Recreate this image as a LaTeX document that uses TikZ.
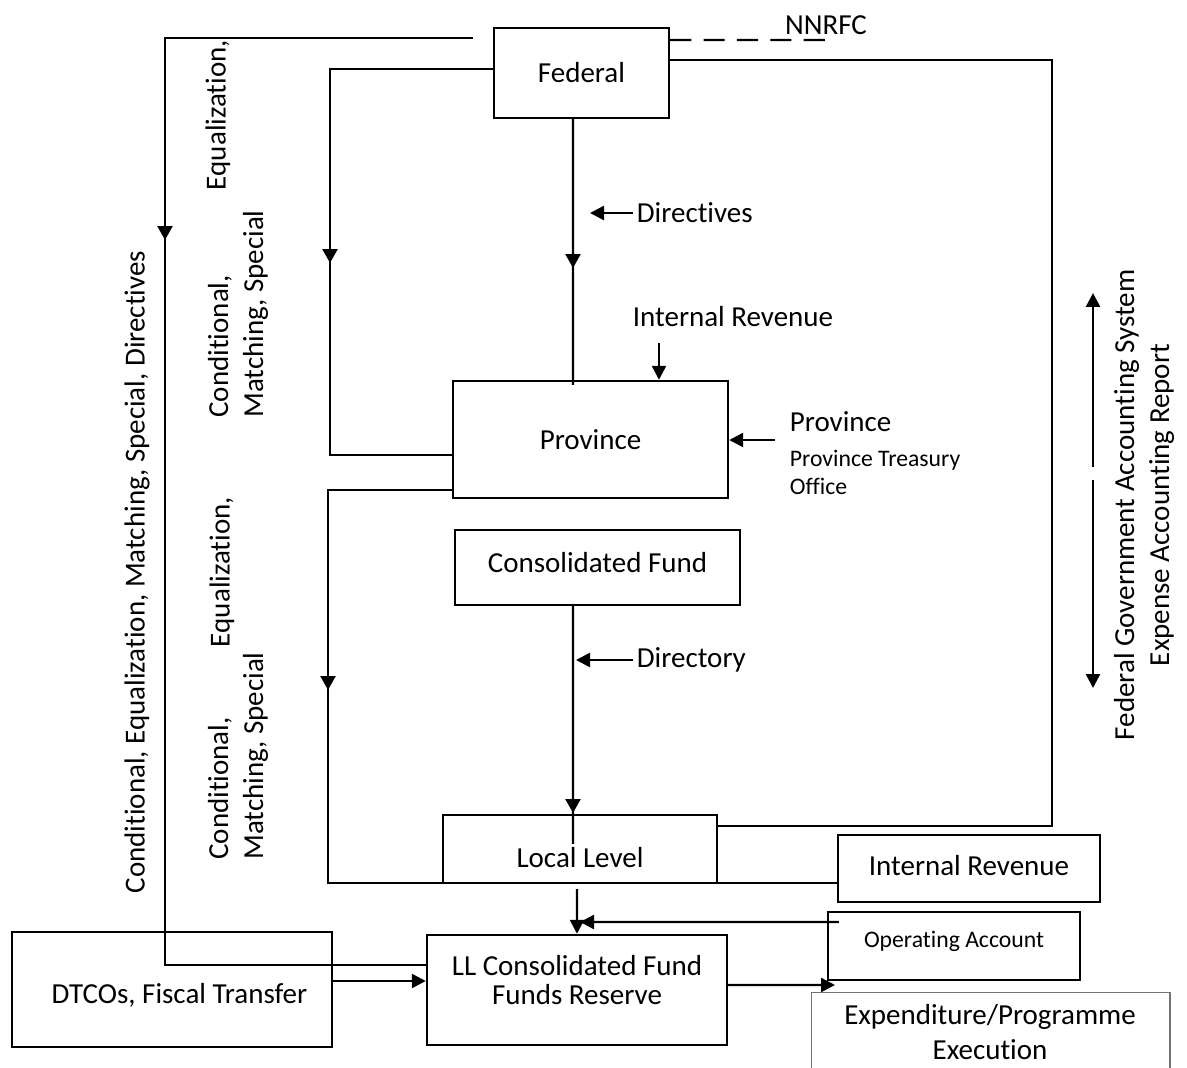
\documentclass[tikz,border=0pt]{standalone}
\usepackage{fontspec}
\setmainfont{Carlito}[Ligatures=NoCommon]
\usetikzlibrary{arrows.meta,positioning}
\newcommand{\smallfont}{\fontsize{13.5}{16}\selectfont}
\newcommand{\nudge}[2]{\raisebox{#1}[\height][\depth]{#2}}
\begin{document}
\begin{tikzpicture}[
  x=0.02cm, y=-0.02cm,
  font=\fontsize{16.5}{20}\selectfont,
  box/.style={
    draw,
    line width=1.4pt,
    inner sep=2pt,
    align=center
  },
  thin_box/.style={
    draw=black!55,
    line width=0.6pt
  },
  label_text/.style={
    inner sep=2pt
  },
  side_text/.style={
    rotate=90,
    align=left,
    inner sep=0pt
  },
  wire/.style={
    draw,
    line width=1.4pt
  },
  wire_dashed/.style={
    wire,
    dash pattern=on 12pt off 7pt
  },
  pointer/.style={
    wire,
    -{Triangle[length=0.28cm,width=0.28cm]}
  },
  tip/.style={
    line width=1.4pt,
    -{Triangle[length=0.28cm,width=0.3cm]}
  }
]%
\useasboundingbox (0,0) rectangle (1187,1068);
\node [box, minimum width=3.5cm, minimum height=1.8cm] (federal) at (581.5,73) {Federal};
\node [box, minimum width=5.5cm, minimum height=2.34cm] (province) at (590.5,439.5) {Province};
\node [box, minimum width=5.7cm, minimum height=1.5cm] (con_fund) at (597.5,567.5) {\nudge{0.1cm}{Consolidated Fund}};
\node [box, minimum width=5.48cm, minimum height=1.36cm] (local) at (580,849) {\nudge{-0.18cm}{Local Level}};
\node [box, minimum width=5.24cm, minimum height=1.34cm] (int_rev) at (969,868.5) {\nudge{0.06cm}{Internal Revenue}};
\node [box, minimum width=5.04cm, minimum height=1.36cm, font=\smallfont] (op_acc) at (954,946) {\nudge{0.1cm}{Operating Account}};
\node [box, minimum width=6cm, minimum height=2.2cm] (ll_fund) at (577,990) {\nudge{0.2cm}{LL Consolidated Fund}\\[-3pt]\nudge{0.2cm}{Funds Reserve}};
\node [box, minimum width=6.4cm, minimum height=2.3cm] (dtcos) at (172,989.5) {\nudge{-0.12cm}{\hspace{0.3cm}DTCOs, Fiscal Transfer}};
\node [thin_box, minimum width=7.18cm, minimum height=1.96cm, anchor=north] (exp_box) at (990.5,992) {};
\node [align=center] (exp_text) at (990,1032) {Expenditure/Programme\\Execution};

\node [label_text] (nnrfc) at (826,25) {NNRFC};
\node [label_text, anchor=west] (dir_lbl) at (633,213) {Directives};
\node [label_text] (ir_lbl) at (733,317) {Internal Revenue};
\node [label_text, anchor=west, align=left] (pto_lbl) at (786,453) {Province\\{\smallfont Province Treasury}\\[-4pt]{\smallfont Office}};
\node [label_text, anchor=west] (dirc_lbl) at (633,660) {Directory};

\node [side_text] (grants_all) at (137,572) {Conditional, Equalization, Matching, Special, Directives};
\node [side_text] (eq_top) at (218,115) {Equalization,};
\node [side_text, anchor=west] (cms_top) at (238,418) {Conditional,\\Matching, Special};
\node [side_text] (eq_mid) at (222,572) {Equalization,};
\node [side_text, anchor=west] (cms_mid) at (238,860) {Conditional,\\Matching, Special};
\node [side_text, align=center] (fgas) at (1144,505) {Federal Government Accounting System\\Expense Accounting Report};

\coordinate (fed_feed) at (473,38);
\coordinate (trunk_bend) at (165,965);
\draw [wire] (fed_feed) -| (trunk_bend) -- (trunk_bend -| ll_fund.west);
\draw [tip] (165,224) -- (165,240);

\coordinate (loop_a) at (330,455);
\draw [wire] ([yshift=0.08cm]federal.west) -| (loop_a) -- (loop_a -| province.west);
\draw [tip] (330,247) -- (330,263);

\coordinate (loop_b) at (328,883);
\draw [wire] ([yshift=-1.01cm]province.west) -| (loop_b) -- (loop_b -| int_rev.west);
\draw [tip] (328,674) -- (328,690);

\coordinate (loop_c) at (1052,826);
\draw [wire] ([yshift=0.26cm]federal.east) -| (loop_c) -- (loop_c -| local.east);

\coordinate (nnrfc_end) at (835,40);
\draw [wire_dashed] ([yshift=0.66cm]federal.east) -- (nnrfc_end);

\draw [wire] ([xshift=-0.17cm]federal.south) -- ([xshift=-0.35cm,yshift=-0.1cm]province.north);
\draw [tip] (573,252) -- (573,268);

\coordinate (dir_tip) at (590,213);
\draw [pointer] (dir_lbl.west) -- (dir_tip);

\coordinate (ir_from) at (659,343);
\draw [pointer] (ir_from) -- (ir_from |- province.north);

\coordinate (pto_from) at (775,440);
\draw [pointer] (pto_from) -- (pto_from -| province.east);

\draw [wire] ([xshift=-0.49cm]con_fund.south) -- ([xshift=-0.14cm,yshift=-0.6cm]local.north);
\draw [tip] (573,797) -- (573,813);

\coordinate (dirc_tip) at (576,660);
\draw [pointer] (dirc_lbl.west) -- (dirc_tip);

\draw [pointer] ([xshift=-0.06cm,yshift=-0.1cm]local.south) -- (ll_fund.north);

\coordinate (op_tip) at (580,922);
\draw [pointer] ([xshift=0.24cm,yshift=0.48cm]op_acc.west) -- (op_tip);

\coordinate (dt_out) at ([yshift=0.17cm]dtcos.east);
\draw [pointer] (dt_out) -- (dt_out -| ll_fund.west);

\coordinate (ex_tip) at (835,985);
\draw [pointer] ([yshift=0.1cm]ll_fund.east) -- (ex_tip);

\coordinate (fgas_up_from) at (1093,467);
\coordinate (fgas_top) at (1093,293);
\coordinate (fgas_down_from) at (1093,480);
\coordinate (fgas_bot) at (1093,688);
\draw [pointer] (fgas_up_from) -- (fgas_top);
\draw [pointer] (fgas_down_from) -- (fgas_bot);
\end{tikzpicture}
\end{document}
